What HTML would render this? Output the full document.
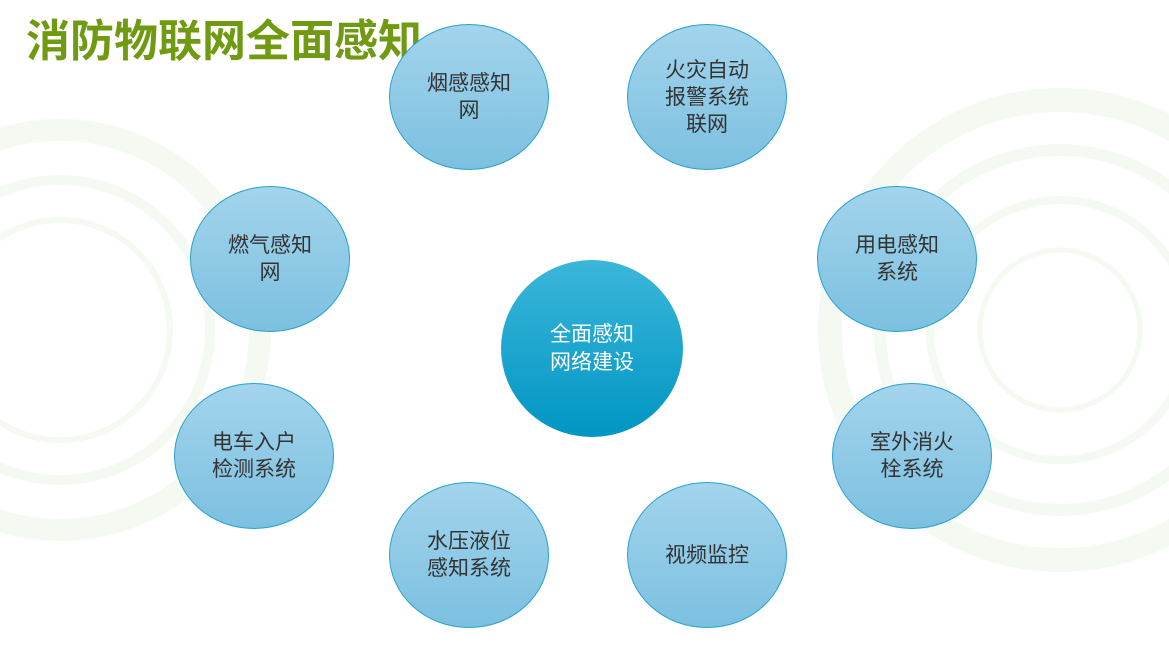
<!DOCTYPE html>
<html><head><meta charset="utf-8"><style>
html,body{margin:0;padding:0;width:1169px;height:647px;overflow:hidden;background:#fff;font-family:"Liberation Sans","Noto Sans CJK SC",sans-serif}
.t{position:absolute;left:26px;top:14px;font-size:44px;line-height:56px;font-weight:bold;color:#6f9a12;letter-spacing:0px;z-index:1;white-space:nowrap}
.e{position:absolute;width:160px;height:146px;border-radius:50%;border:1px solid #27a3cc;background:linear-gradient(#a3d4ec,#7cc0e0);display:flex;align-items:center;justify-content:center;text-align:center;font-size:21px;line-height:27px;color:#333;z-index:2;box-sizing:border-box}
.c{position:absolute;left:501px;top:260px;width:182px;height:177px;border-radius:50%;background:linear-gradient(#3cb6da,#0096c3);display:flex;align-items:center;justify-content:center;text-align:center;color:#fff;font-size:21px;line-height:28px;z-index:2}
svg{position:absolute;left:0;top:0}
</style></head><body>
<svg width="1169" height="647">
<g fill="none" stroke="#f4f9f1">
<circle cx="60" cy="330" r="200" stroke-width="22"/>
<circle cx="60" cy="330" r="150" stroke-width="10"/>
<circle cx="60" cy="330" r="110" stroke-width="6"/>
<circle cx="1060" cy="330" r="230" stroke-width="24"/>
<circle cx="1060" cy="330" r="180" stroke-width="12"/>
<circle cx="1060" cy="330" r="130" stroke-width="8"/>
<circle cx="1060" cy="330" r="80" stroke-width="5"/>
</g>
</svg>
<div class="t">消防物联网全面感知</div>
<div class="e" style="left:389px;top:24px">烟感感知<br>网</div>
<div class="e" style="left:627px;top:24px">火灾自动<br>报警系统<br>联网</div>
<div class="e" style="left:190px;top:186px">燃气感知<br>网</div>
<div class="e" style="left:817px;top:186px">用电感知<br>系统</div>
<div class="e" style="left:174px;top:383px">电车入户<br>检测系统</div>
<div class="e" style="left:832px;top:383px">室外消火<br>栓系统</div>
<div class="e" style="left:389px;top:482px">水压液位<br>感知系统</div>
<div class="e" style="left:627px;top:482px">视频监控</div>
<div class="c">全面感知<br>网络建设</div>
</body></html>
